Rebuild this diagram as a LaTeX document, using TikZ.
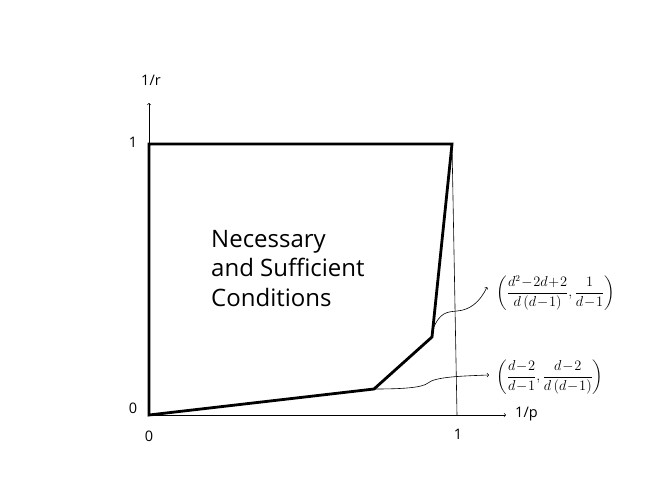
\documentclass[tikz,border=0pt]{standalone}
\usepackage{amsmath}
\usepackage{fontspec}
\setsansfont{Open Sans}
\usetikzlibrary{arrows}
\tikzset{
  region/.style={line width=2.8pt, line join=miter},
  guide/.style={line width=0.6pt},
  tick/.style={font=\sffamily\fontsize{14.5}{16}\selectfont},
  note/.style={font=\fontsize{13.5}{15}\selectfont, anchor=west, inner sep=0pt}
}
\begin{document}
\begin{tikzpicture}[x=1pt, y=-1pt, >=to]
      \useasboundingbox (0,0) rectangle (664,498);
      \coordinate (o) at (149,415);
      \coordinate (a) at (374,389);
      \coordinate (b) at (432,337);
      \coordinate (c) at (452,144);
      \coordinate (d) at (149,144);
      \coordinate (e) at (457,415);
      \coordinate (xend) at (506,415);
      \coordinate (yend) at (149,103);
      \draw[guide, ->] (o) -- (xend);
      \draw[guide, ->] (o) -- (yend);
      \draw[guide] (c) -- (e);
      \draw[region] (o) -- (a) -- (b) -- (c) -- (d) -- cycle;
      \node[tick, anchor=west, inner sep=0pt] (pl) at (515,414) {1/p};
      \node[tick] (rl) at (151,80) {1/r};
      \node[tick] (y1) at (133,142) {1};
      \node[tick] (y0) at (133,408) {0};
      \node[tick] (x0) at (149,436) {0};
      \node[tick] (x1) at (458,434) {1};
      \node[font=\sffamily\fontsize{24}{29.5}\selectfont, align=left, anchor=base west, inner sep=0pt] (txt) at (211,306) {Necessary\\and Sufficient\\Conditions};
      \node[note] (upper) at (496,293) {$\left(\dfrac{d^2\!-\!2d\!+\!2}{d\,(d\!-\!1)},\dfrac{1}{d\!-\!1}\right)$};
      \node[note] (lower) at (496,377) {$\left(\dfrac{d\!-\!2}{d\!-\!1},\dfrac{d\!-\!2}{d\,(d\!-\!1)}\right)$};
      \draw[guide, ->] (433,329) .. controls (440,312) and (447,312) .. (457,311) .. controls (470,310) and (480,302) .. (487,287);
      \draw[guide, ->] (a) .. controls (400,389) and (422,388) .. (428,383) .. controls (435,377) and (460,376) .. (489,375);
\end{tikzpicture}
\end{document}
